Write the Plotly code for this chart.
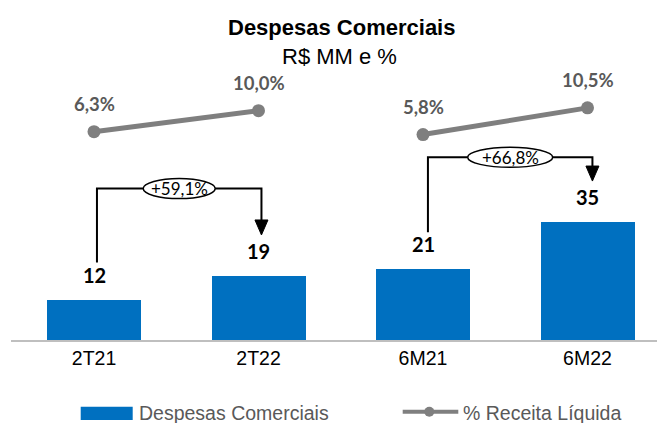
import plotly.graph_objects as go

# ---------------- data ----------------
categories = ["2T21", "2T22", "6M21", "6M22"]
despesas = [12, 19, 21, 35]
pct_receita = [6.3, 10.0, 5.8, 10.5]
pct_labels = ["6,3%", "10,0%", "5,8%", "10,5%"]
pairs = [(0, 1), (2, 3)]
variation_labels = ["+59,1%", "+66,8%"]

# ---------------- style / geometry ----------------
W, H = 657, 423
ML, MR, MT, MB = 11, 0, 70, 83
PLOT_W = W - ML - MR
PLOT_H = H - MT - MB
BAR_COLOR = "#0070C0"
LINE_COLOR = "#7F7F7F"
LABEL_GRAY = "#595959"
ARIAL = "Liberation Sans, Arial, sans-serif"
CAL = "Lato, Carlito, Calibri, sans-serif"

PX_PER_CAT = 164.5
X_RANGE = [-(94 - ML) / PX_PER_CAT, -(94 - ML) / PX_PER_CAT + PLOT_W / PX_PER_CAT]
PX_PER_UNIT = 3.37
Y_RANGE = [0, PLOT_H / PX_PER_UNIT]
PX_PER_PCT = 5.676
Y2_LOW = 6.3 - (MT + PLOT_H - 131.7) / PX_PER_PCT
Y2_RANGE = [Y2_LOW, Y2_LOW + PLOT_H / PX_PER_PCT]

def u(px):
    """pixel length -> y data units"""
    return px / PX_PER_UNIT

def xu(px):
    """pixel length -> x data units"""
    return px / PX_PER_CAT

def px_x(px):
    return (px - ML) / PLOT_W

def px_y(py):
    return (MT + PLOT_H - py) / PLOT_H

xs = list(range(len(categories)))

fig = go.Figure()

fig.add_trace(go.Bar(
    x=xs, y=despesas, name="Despesas Comerciais",
    marker=dict(color=BAR_COLOR, line=dict(width=0)),
    width=94 / PX_PER_CAT, showlegend=False, hoverinfo="skip",
))

# line with gaps between pairs
lx, ly = [], []
for a, b in pairs:
    if lx:
        lx.append(None); ly.append(None)
    lx += [xs[a], xs[b]]
    ly += [pct_receita[a], pct_receita[b]]
fig.add_trace(go.Scatter(
    x=lx, y=ly, yaxis="y2", mode="lines+markers", name="% Receita Líquida",
    line=dict(color=LINE_COLOR, width=5), marker=dict(size=13, color=LINE_COLOR),
    connectgaps=False, showlegend=False, hoverinfo="skip", cliponaxis=False,
))

annotations = []
shapes = []

# bar value labels
for i, v in enumerate(despesas):
    annotations.append(dict(x=xs[i], y=v, xref="x", yref="y", text=f"<b>{v}</b>",
                            showarrow=False, yshift=25, yanchor="middle",
                            font=dict(family=CAL, size=20, color="#000000")))
# line labels
for i, (v, t) in enumerate(zip(pct_receita, pct_labels)):
    annotations.append(dict(x=xs[i], y=v, xref="x", yref="y2", text=f"<b>{t}</b>",
                            showarrow=False, yshift=27.5, yanchor="middle",
                            font=dict(family=CAL, size=18.5, color=LABEL_GRAY)))

# variation brackets
BRACKET_LEVEL_PX = [188.6, 157.3]
ELLIPSE_W_PX = [72, 85]
X_OFF = [0.018, 0.03]
for k, ((a, b), lab) in enumerate(zip(pairs, variation_labels)):
    xl = xs[a] + X_OFF[k]
    xr = xs[b] + X_OFF[k]
    y_start = despesas[a] + u(37)
    y_level = (MT + PLOT_H - BRACKET_LEVEL_PX[k]) / PX_PER_UNIT
    y_tip = despesas[b] + u(41)
    y_head = y_tip + u(15)
    hw = xu(6.5)
    shapes.append(dict(type="path", xref="x", yref="y",
                       path=f"M{xl},{y_start} L{xl},{y_level} L{xr},{y_level} L{xr},{y_head}",
                       line=dict(color="#000000", width=2), layer="above"))
    shapes.append(dict(type="path", xref="x", yref="y",
                       path=f"M{xr-hw},{y_head} L{xr+hw},{y_head} L{xr},{y_tip} Z",
                       line=dict(color="#000000", width=1), fillcolor="#000000", layer="above"))
    xc = (xl + xr) / 2
    ew = xu(ELLIPSE_W_PX[k]) / 2
    eh = u(20) / 2
    shapes.append(dict(type="circle", xref="x", yref="y",
                       x0=xc - ew, x1=xc + ew, y0=y_level - eh, y1=y_level + eh,
                       line=dict(color="#000000", width=1.5), fillcolor="#FFFFFF", layer="above"))
    annotations.append(dict(x=xc, y=y_level, xref="x", yref="y", text=lab, showarrow=False,
                            yanchor="middle",
                            font=dict(family=CAL, size=17, color="#000000")))

# title
annotations.append(dict(x=px_x(341), y=px_y(27), xref="paper", yref="paper",
                        text="<b>Despesas Comerciais</b>", showarrow=False, yanchor="middle",
                        font=dict(family=ARIAL, size=22, color="#000000")))
annotations.append(dict(x=px_x(339), y=px_y(56), xref="paper", yref="paper",
                        text="R$ MM e %", showarrow=False, yanchor="middle",
                        font=dict(family=ARIAL, size=22, color="#000000")))

# custom legend
shapes.append(dict(type="rect", xref="paper", yref="paper",
                   x0=px_x(80.7), x1=px_x(132.7), y0=px_y(420), y1=px_y(406.7),
                   fillcolor=BAR_COLOR, line=dict(width=0)))
annotations.append(dict(x=px_x(137), y=px_y(413), xref="paper", yref="paper",
                        text="Despesas Comerciais", showarrow=False, xanchor="left", yanchor="middle",
                        font=dict(family=ARIAL, size=19.5, color=LABEL_GRAY)))
shapes.append(dict(type="line", xref="paper", yref="paper",
                   x0=px_x(402.7), x1=px_x(458.3), y0=px_y(411.7), y1=px_y(411.7),
                   line=dict(color=LINE_COLOR, width=4)))
shapes.append(dict(type="circle", xref="paper", yref="paper",
                   x0=px_x(424.3), x1=px_x(434.3), y0=px_y(416.7), y1=px_y(406.7),
                   fillcolor=LINE_COLOR, line=dict(width=0)))
annotations.append(dict(x=px_x(461), y=px_y(413), xref="paper", yref="paper",
                        text="% Receita Líquida", showarrow=False, xanchor="left", yanchor="middle",
                        font=dict(family=ARIAL, size=19.5, color=LABEL_GRAY)))

fig.update_layout(
    width=W, height=H,
    margin=dict(l=ML, r=MR, t=MT, b=MB, pad=0),
    paper_bgcolor="#FFFFFF", plot_bgcolor="#FFFFFF",
    showlegend=False,
    xaxis=dict(range=X_RANGE, tickvals=xs, ticktext=categories, showgrid=False,
               zeroline=False, showline=True, linecolor="#BFBFBF", linewidth=1.5,
               ticks="", tickfont=dict(family=ARIAL, size=19.5, color="#000000"),
               fixedrange=True),
    yaxis=dict(range=Y_RANGE, visible=False, fixedrange=True),
    yaxis2=dict(range=Y2_RANGE, overlaying="y", visible=False, fixedrange=True),
    annotations=annotations,
    shapes=shapes,
    bargap=0,
)

fig.write_html("out.html", config={"displayModeBar": False},
               post_script="document.body.style.margin='0';document.body.style.overflow='hidden';")
